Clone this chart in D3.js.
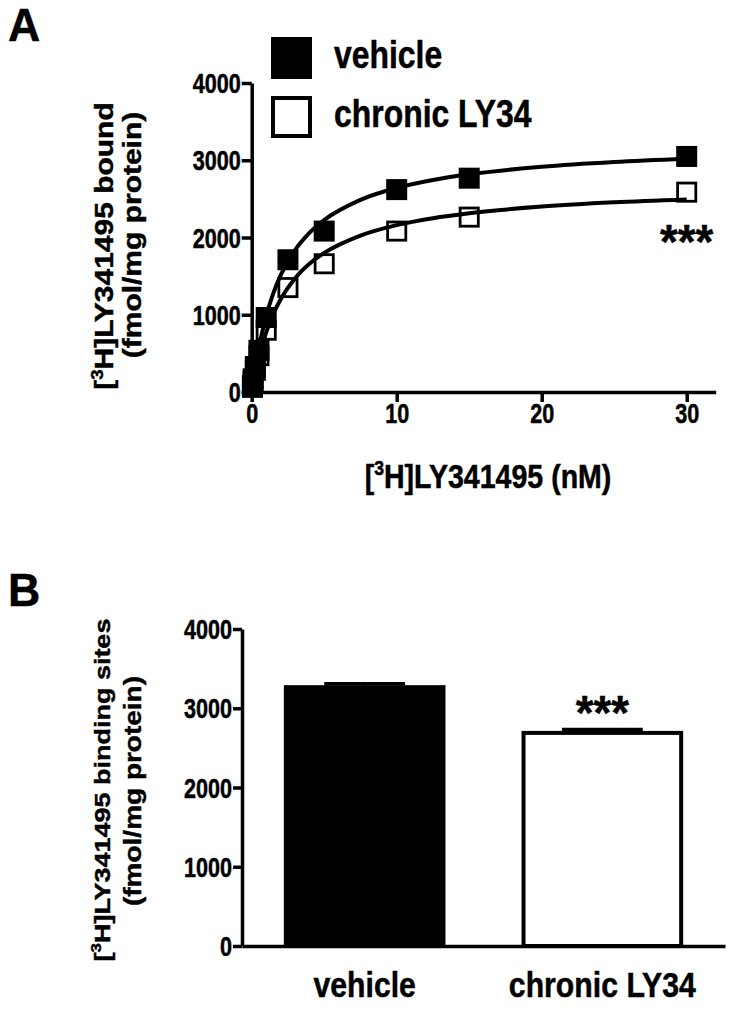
<!DOCTYPE html>
<html><head><meta charset="utf-8">
<script src="https://cdn.jsdelivr.net/npm/d3@7"></script>
<style>
body{margin:0;background:#fff;}
svg text{font-family:"Liberation Sans", Arial, Helvetica, sans-serif;font-weight:bold;fill:#000;stroke:#000;stroke-width:0.5px;}
</style></head><body>
<svg id="chart" width="729" height="1012"></svg>
<script>
// ---------- data ----------
const concentrations = [0.05, 0.1, 0.25, 0.5, 1, 2.5, 5, 10, 15, 30];
const vehicleBound   = [80, 170, 330, 540, 964, 1712, 2083, 2620, 2768, 3049];
const chronicBound   = [60, 140, 280, 470, 800, 1352, 1660, 2083, 2264, 2587];
// fitted curves
const fitConc    = [0, 0.25, 0.5, 1, 1.5, 2, 3, 4, 5, 7.5, 10, 12.5, 15, 20, 25, 30];
const vehicleFit = [0, 319, 580, 985, 1283, 1512, 1840, 2063, 2226, 2487, 2642, 2745, 2818, 2915, 2977, 3019];
const chronicFit = [0, 245, 450, 771, 1013, 1200, 1473, 1662, 1800, 2025, 2160, 2250, 2314, 2400, 2455, 2492];
const xTicksA = [0, 10, 20, 30];
const yTicksA = [0, 1000, 2000, 3000, 4000];
const seriesNames = ["vehicle", "chronic LY34"];

const groups   = ["vehicle", "chronic LY34"];
const bmaxMean = [3266, 2689];
const bmaxSem  = [42, 42];
const yTicksB  = [0, 1000, 2000, 3000, 4000];
const sigLabel = "***";

// ---------- helpers ----------
const SQ = 0.84; // horizontal squeeze of the lettering
const svg = d3.select("#chart");

function label(g, x, y, parts, size, anchor, rotate, sq) {
  const s = sq || SQ;
  const t = g.append("text")
    .attr("transform", `translate(${x},${y}) scale(${s},1)` + (rotate ? " rotate(-90)" : ""))
    .attr("text-anchor", anchor || "start")
    .style("font-size", size + "px");
  let shift = 0;
  parts.forEach(p => {
    const sup = typeof p === "object";
    const txt = sup ? p.sup : p;
    const dy = sup ? -size * 0.38 : (shift ? size * 0.38 : 0);
    const ts = t.append("tspan").text(txt);
    if (dy) ts.attr("dy", dy);
    if (sup) ts.style("font-size", (size * 0.62) + "px");
    shift = sup ? 1 : 0;
  });
  return t;
}

function styleAxis(g, sw) {
  g.select(".domain").attr("stroke", "#000").attr("stroke-width", sw);
  g.selectAll(".tick line").attr("stroke", "#000").attr("stroke-width", sw);
}

const TF = 27, TSQ = 0.8;

// ================= Panel A =================
const A = svg.append("g");
const xA = d3.scaleLinear().domain([0, 32]).range([251.7, 715.7]);
const yA = d3.scaleLinear().domain([0, 4000]).range([392, 83]);

label(A, 8, 41, ["A"], 47, "start", false, 0.95);

const gxA = A.append("g").attr("transform", `translate(0,${yA(0)})`)
  .call(d3.axisBottom(xA).tickValues(xTicksA).tickSize(10).tickSizeOuter(0).tickFormat(d3.format("d")));
styleAxis(gxA, 3.5);
gxA.selectAll(".tick text").attr("y", 12).attr("dy", "0.71em")
  .style("font-size", TF + "px").attr("transform", `scale(${TSQ},1)`);

const gyA = A.append("g").attr("transform", `translate(${xA(0)},0)`)
  .call(d3.axisLeft(yA).tickValues(yTicksA).tickSize(10).tickSizeOuter(0).tickFormat(d3.format("d")));
styleAxis(gyA, 3.5);
gyA.selectAll(".tick text").attr("x", -11 / TSQ).attr("dy", "0.36em")
  .style("font-size", TF + "px").attr("transform", `scale(${TSQ},1)`);

// fitted curves
const lineA = d3.line().x(d => xA(d[0])).y(d => yA(d[1])).curve(d3.curveMonotoneX);
A.append("path").datum(fitConc.map((c, i) => [c, chronicFit[i]]))
  .attr("d", lineA).attr("fill", "none").attr("stroke", "#000").attr("stroke-width", 4);
A.append("path").datum(fitConc.map((c, i) => [c, vehicleFit[i]]))
  .attr("d", lineA).attr("fill", "none").attr("stroke", "#000").attr("stroke-width", 4);

// points
const ms = 21;
A.append("g").selectAll("rect").data(concentrations.map((c, i) => [c, chronicBound[i]]))
  .join("rect")
  .attr("x", d => xA(d[0]) - ms / 2 + 1.4).attr("y", d => yA(d[1]) - ms / 2 + 1.4)
  .attr("width", ms - 2.8).attr("height", ms - 2.8)
  .attr("fill", "none").attr("stroke", "#000").attr("stroke-width", 2.8);
A.append("g").selectAll("rect").data(concentrations.map((c, i) => [c, vehicleBound[i]]))
  .join("rect")
  .attr("x", d => xA(d[0]) - ms / 2).attr("y", d => yA(d[1]) - ms / 2)
  .attr("width", ms).attr("height", ms).attr("fill", "#000");

// significance
label(A, xA(30), yA(1730), [sigLabel], 48, "middle", false, 0.95);

// legend
const leg = A.append("g");
leg.append("rect").attr("x", 271).attr("y", 37).attr("width", 41).attr("height", 42).attr("fill", "#000");
leg.append("rect").attr("x", 273).attr("y", 98).attr("width", 37).attr("height", 38)
  .attr("fill", "#fff").attr("stroke", "#000").attr("stroke-width", 4);
label(leg, 334, 68, [seriesNames[0]], 38, "start");
label(leg, 334, 127, [seriesNames[1]], 38, "start");

// axis titles
label(A, 488, 488, ["[", {sup: "3"}, "H]LY341495 (nM)"], 34, "middle");
label(A, 113, 246, ["[", {sup: "3"}, "H]LY341495 bound"], 30, "middle", true);
label(A, 141, 235, ["(fmol/mg protein)"], 30, "middle", true);

// ================= Panel B =================
const B = svg.append("g");
const xB = d3.scaleBand().domain(groups).range([242, 725]).paddingInner(0.32).paddingOuter(0.176);
const yB = d3.scaleLinear().domain([0, 4000]).range([946, 629]);

label(B, 8, 606, ["B"], 47, "start", false, 0.95);

// bars
const sw = 4;
B.append("g").selectAll("rect").data(groups)
  .join("rect")
  .attr("x", d => xB(d) + sw / 2).attr("width", xB.bandwidth() - sw)
  .attr("y", (d, i) => yB(bmaxMean[i])).attr("height", (d, i) => yB(0) - yB(bmaxMean[i]))
  .attr("fill", (d, i) => i === 0 ? "#000" : "#fff")
  .attr("stroke", "#000").attr("stroke-width", sw);

// error bars (upper only)
const eb = B.append("g");
groups.forEach((g, i) => {
  const cx = xB(g) + xB.bandwidth() / 2, top = yB(bmaxMean[i] + bmaxSem[i]);
  const hw = xB.bandwidth() / 4;
  eb.append("line").attr("x1", cx).attr("x2", cx).attr("y1", yB(bmaxMean[i])).attr("y2", top)
    .attr("stroke", "#000").attr("stroke-width", 3);
  eb.append("line").attr("x1", cx - hw).attr("x2", cx + hw).attr("y1", top).attr("y2", top)
    .attr("stroke", "#000").attr("stroke-width", 3.5);
});

const gxB = B.append("g").attr("transform", `translate(0,${yB(0)})`)
  .call(d3.axisBottom(xB).tickSize(0).tickSizeOuter(0));
gxB.select(".domain").attr("stroke", "#000").attr("stroke-width", 3.5);
gxB.selectAll(".tick text").remove();
groups.forEach(g => label(B, xB(g) + xB.bandwidth() / 2, 997, [g], 36, "middle"));

const gyB = B.append("g").attr("transform", `translate(${xB.range()[0]},0)`)
  .call(d3.axisLeft(yB).tickValues(yTicksB).tickSize(9).tickSizeOuter(0).tickFormat(d3.format("d")));
styleAxis(gyB, 3.5);
gyB.selectAll(".tick text").attr("x", -10 / TSQ).attr("dy", "0.36em")
  .style("font-size", TF + "px").attr("transform", `scale(${TSQ},1)`);

// significance
label(B, xB(groups[1]) + xB.bandwidth() / 2, yB(bmaxMean[1] + bmaxSem[1]) - 1, [sigLabel], 48, "middle", false, 0.95);

// axis titles
label(B, 110, 790, ["[", {sup: "3"}, "H]LY341495 binding sites"], 27, "middle", true);
label(B, 141, 791, ["(fmol/mg protein)"], 28, "middle", true);
</script>
</body></html>
